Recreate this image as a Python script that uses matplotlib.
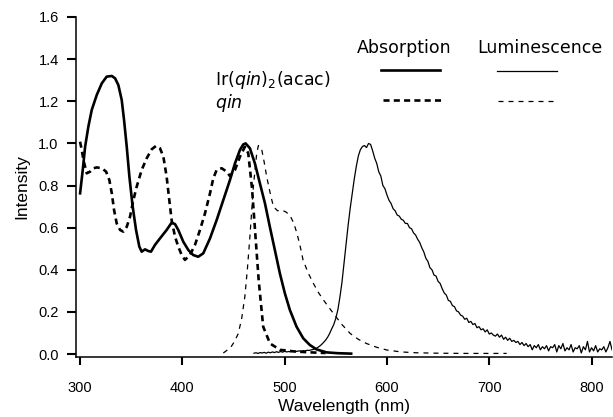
import numpy as np
import matplotlib
matplotlib.use("Agg")
import matplotlib.pyplot as plt

plt.rcParams['font.family'] = ['Liberation Sans', 'DejaVu Sans']
plt.rcParams['mathtext.fontset'] = 'custom'
plt.rcParams['mathtext.rm'] = 'DejaVu Sans'
plt.rcParams['mathtext.it'] = 'DejaVu Sans:italic'

# ---- data ----
ir_abs_x = [300, 302.6, 304.9, 308.1, 311.4, 316.3, 321.2, 326, 331, 334.2, 337.4, 340.7, 343, 345.6,
            348.2, 351.4, 354.7, 357.9, 360.2, 363.5, 366.7, 369.3, 373.2, 378.1, 384.6, 389.5,
            392.8, 396, 400.9, 405.8, 410.6, 415.5, 420.4, 427, 433.5, 440, 446.5, 451.4, 456.3,
            459.5, 461.8, 466, 470.9, 475.8, 480.7, 485.5, 490.4, 495.3, 500.2, 505.1, 511.6,
            518.1, 524.6, 531.2, 540.9, 552, 565]
ir_abs_y = [0.763, 0.874, 0.984, 1.08, 1.159, 1.23, 1.285, 1.317, 1.32, 1.309, 1.277, 1.206, 1.11, 0.984,
            0.842, 0.70, 0.589, 0.51, 0.486, 0.497, 0.489, 0.486, 0.518, 0.549, 0.589, 0.624,
            0.617, 0.589, 0.533, 0.494, 0.47, 0.462, 0.478, 0.549, 0.636, 0.731, 0.826, 0.905, 0.969,
            0.995, 1.0, 0.977, 0.905, 0.81, 0.716, 0.604, 0.494, 0.383, 0.288, 0.209, 0.13,
            0.075, 0.043, 0.022, 0.008, 0.004, 0.002]

qin_abs_x = [300, 301.6, 303.3, 306.5, 309.8, 313, 316.3, 321.2, 325.4, 328.6, 331, 333.2, 335.8, 339.1,
             342.3, 345.6, 348.8, 352.1, 355.3, 360.2, 365.1, 370, 374.2, 378.1, 381.4, 384.6,
             387.2, 389.5, 392.8, 396, 399.3, 402.5, 407.4, 412.3, 417.2, 422.1, 427, 430.2, 433.5,
             438.4, 443.3, 446.5, 451.4, 456.3, 461.1, 464.4, 468, 471, 474.6, 479, 485.7, 495.5,
             510, 525, 540]
qin_abs_y = [1.008, 0.969, 0.921, 0.858, 0.866, 0.882, 0.886, 0.882, 0.866, 0.826, 0.763, 0.684, 0.62, 0.589,
             0.581, 0.604, 0.652, 0.731, 0.794, 0.874, 0.929, 0.972, 0.988, 0.977, 0.937, 0.842,
             0.731, 0.636, 0.557, 0.51, 0.47, 0.447, 0.47, 0.518, 0.589, 0.668, 0.763, 0.834, 0.874,
             0.882, 0.866, 0.845, 0.874, 0.937, 0.984, 0.953, 0.79, 0.59, 0.35, 0.13, 0.05, 0.02,
             0.012, 0.008, 0.005]

qin_lum_x = [440, 447, 451, 454.7, 458, 461, 463.5, 466, 469.4, 472.6, 474.3, 477.6, 480, 482.5, 486,
             489, 493, 497, 501, 505, 509, 512, 515, 518, 523, 528, 533, 538, 547.6, 556, 564, 572,
             580, 590, 600, 614, 629, 650, 678, 717]
qin_lum_y = [0.005, 0.03, 0.06, 0.098, 0.17, 0.27, 0.40, 0.557, 0.795, 0.95, 0.99, 0.97, 0.91, 0.84, 0.76,
             0.70, 0.68, 0.684, 0.675, 0.66, 0.62, 0.573, 0.515, 0.446, 0.385, 0.336, 0.292, 0.256,
             0.193, 0.14, 0.098, 0.07, 0.05, 0.032, 0.019, 0.01, 0.006, 0.004, 0.003, 0.003]

ir_lum_x = np.arange(470, 821, 2)
ir_lum_y = [
    0.004, 0.006, 0.003, 0.007, 0.005, 0.008, 0.004, 0.009, 0.006, 0.010,
    0.007, 0.011, 0.008, 0.012, 0.009, 0.013, 0.010, 0.012, 0.011, 0.014,
    0.012, 0.013, 0.015, 0.014, 0.016, 0.015, 0.018, 0.017, 0.020, 0.022,
    0.025, 0.030, 0.037, 0.045, 0.055, 0.066, 0.080, 0.098, 0.12, 0.14,
    0.17, 0.21, 0.27, 0.34, 0.43, 0.52, 0.61, 0.69, 0.76, 0.83,
    0.89, 0.94, 0.97, 0.985, 0.99, 0.98, 1.0, 0.995, 0.965, 0.93,
    0.905, 0.865, 0.845, 0.80, 0.785, 0.755, 0.73, 0.715, 0.69, 0.68,
    0.66, 0.655, 0.64, 0.635, 0.62, 0.62, 0.60, 0.595, 0.575, 0.565,
    0.545, 0.53, 0.505, 0.485, 0.455, 0.44, 0.41, 0.40, 0.375, 0.37,
    0.345, 0.335, 0.31, 0.29, 0.28, 0.255, 0.25, 0.23, 0.225, 0.205,
    0.20, 0.185, 0.18, 0.165, 0.17, 0.15, 0.155, 0.14, 0.145, 0.125,
    0.13, 0.115, 0.12, 0.105, 0.115, 0.095, 0.10, 0.09, 0.085, 0.095,
    0.08, 0.09, 0.07, 0.08, 0.065, 0.075, 0.06, 0.065, 0.055, 0.06,
    0.045, 0.055, 0.04, 0.05, 0.035, 0.045, 0.02, 0.04, 0.03, 0.045,
    0.02, 0.035, 0.025, 0.04, 0.015, 0.035, 0.03, 0.045, 0.01, 0.04,
    0.025, 0.05, 0.015, 0.03, 0.02, 0.045, 0.01, 0.03, 0.025, 0.04,
    0.005, 0.035, 0.02, 0.06, 0.01, 0.03, 0.015, 0.04, 0.01, 0.025,
    0.02, 0.035, 0.01, 0.03, 0.06, 0.02]

x_ticks = [300, 400, 500, 600, 700, 800]
y_ticks = [0.0, 0.2, 0.4, 0.6, 0.8, 1.0, 1.2, 1.4, 1.6]

# ---- figure ----
fig = plt.figure(figsize=(6.13, 4.17), dpi=100)
ax = fig.add_axes([76/613, 60/417, 536/613, 340/417])

thick = 1.9
thin = 0.9
thick_dash = (2.3, 1.6)
thin_dash = (4, 4)
ax.plot(ir_abs_x, ir_abs_y, color='black', lw=thick, solid_joinstyle='round')
ax.plot(qin_abs_x, qin_abs_y, color='black', lw=thick, dashes=thick_dash)
ax.plot(ir_lum_x, ir_lum_y[:len(ir_lum_x)], color='black', lw=thin)
ax.plot(qin_lum_x, qin_lum_y, color='black', lw=thin, dashes=thin_dash)

ax.set_xlim(296, 820)
ax.set_ylim(-0.014, 1.6)
ax.set_xticks(x_ticks)
ax.set_yticks(y_ticks)
ax.set_yticklabels([f"{v:.1f}" for v in y_ticks])
for s in ['top', 'right']:
    ax.spines[s].set_visible(False)
for s in ['left', 'bottom']:
    ax.spines[s].set_linewidth(1.1)
ax.tick_params(axis='x', direction='out', length=6, width=1.5, pad=11, labelsize=10.5)
ax.tick_params(axis='y', direction='out', length=6.5, width=1.5, pad=6, labelsize=10.5)

ax.set_xlabel('Wavelength (nm)', fontsize=12.5, labelpad=3)
ax.set_ylabel('Intensity', fontsize=12.5, labelpad=6)

# legend-like annotations
tr = ax.transAxes
lf = dict(transform=tr, fontsize=12.5, va='center', ha='left', family=['DejaVu Sans'])
ax.text(0.524, 0.909, 'Absorption', **lf)
ax.text(0.748, 0.909, 'Luminescence', **lf)
ax.text(0.259, 0.815, r'Ir($\mathit{qin}$)$_{2}$(acac)', **lf)
ax.text(0.259, 0.747, r'$\mathit{qin}$', **lf)
ax.plot([0.569, 0.679], [0.844, 0.844], transform=tr, color='black', lw=thick, clip_on=False)
ax.plot([0.573, 0.683], [0.756, 0.756], transform=tr, color='black', lw=thick, dashes=thick_dash, clip_on=False)
ax.plot([0.785, 0.897], [0.841, 0.841], transform=tr, color='black', lw=thin, clip_on=False)
ax.plot([0.787, 0.900], [0.753, 0.753], transform=tr, color='black', lw=thin, dashes=thin_dash, clip_on=False)

fig.savefig('out.png', dpi=100)
